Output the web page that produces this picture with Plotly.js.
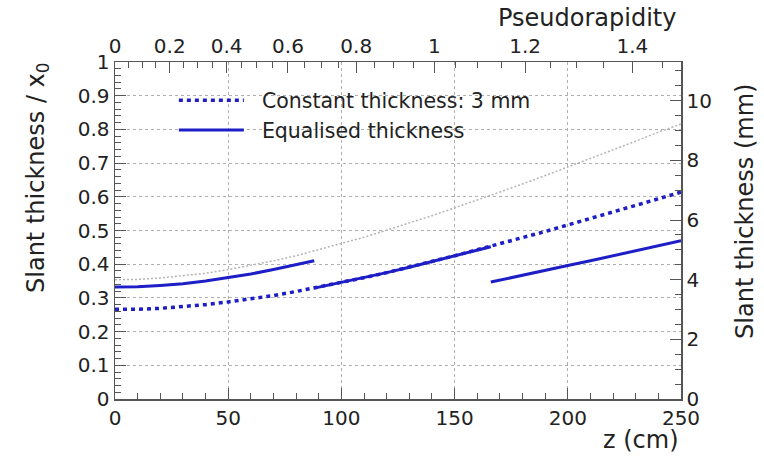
<!DOCTYPE html>
<html>
<head>
<meta charset="utf-8">
<script src="https://cdn.plot.ly/plotly-3.0.1.min.js"></script>
<style>html,body{margin:0;padding:0;background:#fff;}#chart{width:764px;height:456px;}</style>
</head>
<body>
<div id="chart"></div>
<script>
// z positions (cm)
var zFull = [0, 10, 20, 30, 40, 50, 60, 70, 80, 90, 100, 110, 120, 130, 140, 150, 160, 170, 180, 190, 200, 210, 220, 230, 240, 250];
// Constant thickness 3 mm, slant thickness / x0
var constVals = [0.266, 0.266, 0.269, 0.274, 0.280, 0.288, 0.297, 0.307, 0.319, 0.332, 0.346, 0.360, 0.375, 0.391, 0.408, 0.425, 0.443, 0.460, 0.479, 0.497, 0.516, 0.535, 0.554, 0.574, 0.594, 0.614];
// Grey reference curve (no legend entry)
var greyVals = [0.354, 0.355, 0.359, 0.365, 0.373, 0.384, 0.396, 0.410, 0.425, 0.443, 0.461, 0.480, 0.501, 0.522, 0.544, 0.567, 0.590, 0.614, 0.638, 0.663, 0.688, 0.714, 0.739, 0.765, 0.792, 0.816];
// Equalised thickness, three segments (null = gap)
var eqZ    = [0, 10, 20, 30, 40, 50, 60, 70, 80, 88, null, 88, 100, 110, 120, 130, 140, 150, 160, 166, null, 166, 170, 180, 190, 200, 210, 220, 230, 240, 250];
var eqVals = [0.332, 0.333, 0.337, 0.342, 0.350, 0.360, 0.371, 0.384, 0.399, 0.410, null, 0.329, 0.346, 0.360, 0.375, 0.391, 0.408, 0.425, 0.443, 0.452, null, 0.347, 0.353, 0.367, 0.381, 0.396, 0.410, 0.425, 0.440, 0.455, 0.470];
// Top axis: pseudorapidity tick labels
var etaTicks = [0, 0.2, 0.4, 0.6, 0.8, 1, 1.2, 1.4];
var etaLabels = ["0", "0.2", "0.4", "0.6", "0.8", "1", "1.2", "1.4"];
var etaMinor = [0.05, 0.1, 0.15, 0.25, 0.3, 0.35, 0.45, 0.5, 0.55, 0.65, 0.7, 0.75, 0.85, 0.9, 0.95, 1.05, 1.1, 1.15, 1.25, 1.3, 1.35, 1.45];
var R_CM = 120; // transverse radius used to map eta -> z
function etaToZ(e){ return R_CM * Math.sinh(e); }

var FONT = "DejaVu Sans, Liberation Sans, Arial, sans-serif";
var BLUE = "#1e1ec6";
var AX = "#555555";
var TXT = "#222222";
var GAP = "\u00a0\u00a0";

var traces = [
  {x: zFull, y: greyVals, mode: "lines", line: {color: "#b4b4b4", width: 1.5, dash: "2px,2px"}, showlegend: false, hoverinfo: "skip"},
  {x: zFull, y: constVals, mode: "lines", name: GAP + "Constant thickness: 3 mm", line: {color: BLUE, width: 3.5, dash: "4px,4px"}},
  {x: eqZ, y: eqVals, mode: "lines", name: GAP + "Equalised thickness", connectgaps: false, line: {color: BLUE, width: 3}},
  {x: [0], y: [0], xaxis: "x2", yaxis: "y2", mode: "markers", marker: {opacity: 0}, showlegend: false, hoverinfo: "skip"}
];

var tickCommon = {ticks: "inside", tickcolor: AX, tickwidth: 1, showline: true, linecolor: AX, linewidth: 1.5, zeroline: false,
  tickfont: {family: FONT, size: 20, color: TXT}};

var layout = {
  width: 764, height: 456,
  margin: {l: 115, r: 83, t: 62, b: 57},
  paper_bgcolor: "#ffffff", plot_bgcolor: "#ffffff",
  showlegend: true,
  legend: {x: 0.104, y: 0.945, xanchor: "left", yanchor: "top", bgcolor: "rgba(0,0,0,0)", itemwidth: 65,
    font: {family: FONT, size: 20.5, color: TXT}, tracegroupgap: 0},
  xaxis: Object.assign({}, tickCommon, {range: [0, 250], tickmode: "linear", tick0: 0, dtick: 50, ticklen: 11,
    showgrid: true, gridcolor: "#b0b0b0", griddash: "dot", gridwidth: 1,
    minor: {dtick: 10, ticklen: 6, ticks: "inside", tickcolor: AX, showgrid: false}}),
  xaxis2: Object.assign({}, tickCommon, {overlaying: "x", side: "top", range: [0, 250], tickmode: "array",
    tickvals: etaTicks.map(etaToZ), ticktext: etaLabels, ticklen: 11, showgrid: false,
    minor: {tickmode: "array", tickvals: etaMinor.map(etaToZ), ticklen: 6, ticks: "inside", tickcolor: AX, showgrid: false}}),
  yaxis: Object.assign({}, tickCommon, {range: [0, 1], tickmode: "linear", tick0: 0, dtick: 0.1, ticklen: 11,
    showgrid: true, gridcolor: "#b0b0b0", griddash: "dot", gridwidth: 1,
    minor: {dtick: 0.02, ticklen: 6, ticks: "inside", tickcolor: AX, showgrid: false}}),
  yaxis2: Object.assign({}, tickCommon, {overlaying: "y", side: "right", range: [0, 11.3], tickmode: "linear", tick0: 0, dtick: 2, ticklen: 11,
    showgrid: false, minor: {dtick: 0.5, ticklen: 6, ticks: "inside", tickcolor: AX, showgrid: false}}),
  annotations: [
    {text: "Slant thickness / x<sub>0</sub>", xref: "paper", yref: "paper", x: -0.136, y: 0.656, xanchor: "center", yanchor: "middle", textangle: -90,
      showarrow: false, font: {family: FONT, size: 24, color: TXT}},
    {text: "Slant thickness (mm)", xref: "paper", yref: "paper", x: 1.113, y: 0.558, xanchor: "center", yanchor: "middle", textangle: -90,
      showarrow: false, font: {family: FONT, size: 24, color: TXT}},
    {text: "z (cm)", xref: "paper", yref: "paper", x: 1, y: -0.122, xanchor: "right", yanchor: "middle",
      showarrow: false, font: {family: FONT, size: 24, color: TXT}},
    {text: "Pseudorapidity", xref: "paper", yref: "paper", x: 0.995, y: 1.131, xanchor: "right", yanchor: "middle",
      showarrow: false, font: {family: FONT, size: 24, color: TXT}}
  ]
};

Plotly.newPlot("chart", traces, layout, {staticPlot: true, displayModeBar: false});
</script>
</body>
</html>
